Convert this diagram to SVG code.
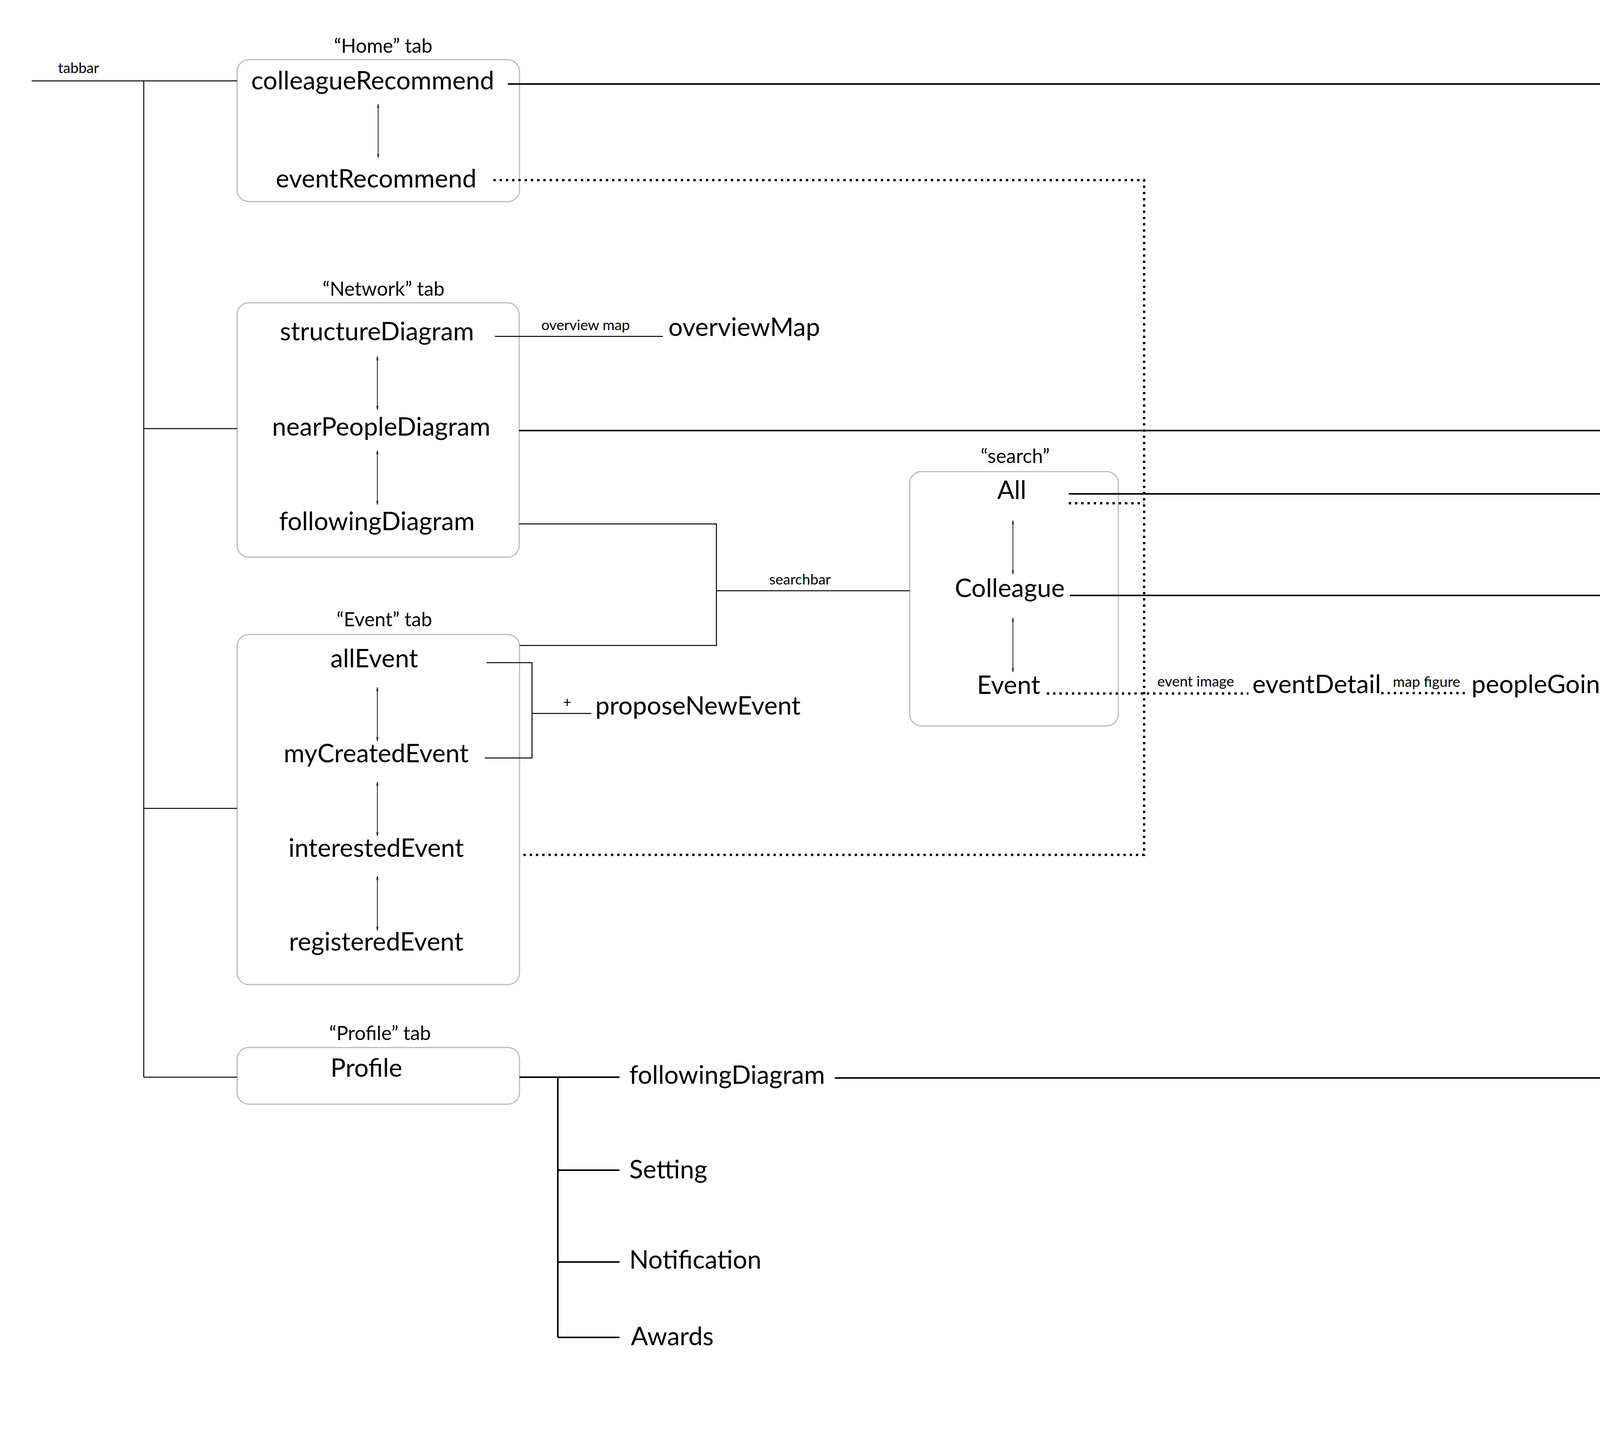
<svg xmlns="http://www.w3.org/2000/svg" width="4990" height="3724" viewBox="0 0 4990 3724">
<style>
text{font-family:Lato,"Liberation Sans",Arial,sans-serif;font-weight:400;fill:#000}
.lbl{font-size:65px}
.ttl{font-size:50px}
.sm{font-size:37px}
.mid{text-anchor:middle}
.box{fill:none;stroke:#bbb;stroke-width:3}
.thin{fill:none;stroke:#000;stroke-width:2.5}
.thick{fill:none;stroke:#000;stroke-width:4}
.dot{fill:none;stroke:#000;stroke-width:6;stroke-dasharray:6 10}
.arr{fill:none;stroke:#222;stroke-width:2}
</style>
<defs>
<marker id="ah" viewBox="0 0 10 6" refX="10" refY="3" markerWidth="11" markerHeight="7" markerUnits="userSpaceOnUse" orient="auto-start-reverse">
<path d="M0,0.5 L10,3 L0,5.5" fill="none" stroke="#222" stroke-width="1"/>
</marker>
</defs>
<rect width="4990" height="3724" fill="#fff"/>

<g id="home-tab">
<text class="ttl mid" x="981" y="135">“Home” tab</text>
<rect class="box" x="607" y="153" width="723" height="363" rx="30"/>
<text class="lbl mid" x="954" y="229">colleagueRecommend</text>
<text class="lbl mid" x="963" y="480">eventRecommend</text>
</g>

<g id="network-tab">
<text class="ttl mid" x="982" y="757">“Network” tab</text>
<rect class="box" x="607" y="775" width="722" height="651" rx="30"/>
<text class="lbl mid" x="965" y="871">structureDiagram</text>
<text class="lbl mid" x="976" y="1115">nearPeopleDiagram</text>
<text class="lbl mid" x="965" y="1357">followingDiagram</text>
</g>

<g id="overviewMap"><text class="lbl" x="1711" y="860">overviewMap</text></g>
<g id="colleaguesProfile"><text class="lbl" x="4463" y="1105">colleaguesProfile</text></g>

<g id="search">
<text class="ttl mid" x="2599" y="1185">“search”</text>
<rect class="box" x="2329" y="1207" width="534" height="651" rx="30"/>
<text class="lbl mid" x="2590" y="1277">All</text>
<text class="lbl mid" x="2585" y="1528">Colleague</text>
<text class="lbl mid" x="2582" y="1776">Event</text>
</g>

<g id="eventDetail"><text class="lbl" x="3206" y="1774">eventDetail</text></g>
<g id="peopleGoing"><text class="lbl" x="3767" y="1774">peopleGoing</text></g>

<g id="event-tab">
<text class="ttl mid" x="984" y="1603">“Event” tab</text>
<rect class="box" x="607" y="1624" width="723" height="896" rx="30"/>
<text class="lbl mid" x="958" y="1708">allEvent</text>
<text class="lbl mid" x="963" y="1951">myCreatedEvent</text>
<text class="lbl mid" x="963" y="2193">interestedEvent</text>
<text class="lbl mid" x="963" y="2433">registeredEvent</text>
</g>

<g id="proposeNewEvent"><text class="lbl" x="1524" y="1829">proposeNewEvent</text></g>

<g id="profile-tab">
<text class="ttl mid" x="973" y="2662">“Profile” tab</text>
<rect class="box" x="607" y="2681" width="723" height="145" rx="30"/>
<text class="lbl mid" x="938" y="2756">Profile</text>
</g>

<g id="profile-followingDiagram"><text class="lbl" x="1611" y="2774">followingDiagram</text></g>
<g id="setting"><text class="lbl" x="1611" y="3016">Setting</text></g>
<g id="notification"><text class="lbl" x="1611" y="3247">Notification</text></g>
<g id="awards"><text class="lbl" x="1615" y="3443">Awards</text></g>

<g id="connectors">
<path class="thin" d="M81,207 H607 M368,207 V2757 M368,1097 H607 M368,2069 H607 M368,2757 H607"/>
<path class="thick" d="M1300,215 H4185 V2761"/>
<path class="dot" d="M1263,461 H2929 V2188 H1330"/>
<line class="arr" x1="968" y1="266" x2="968" y2="404" marker-start="url(#ah)" marker-end="url(#ah)"/>
<path class="thin" d="M1267,861 H1697"/>
<path class="thick" d="M1329,1102 H4451"/>
<path class="thin" d="M1329,1341 H1834 V1652 H1330 M1834,1512 H2329"/>
<line class="arr" x1="966" y1="912" x2="966" y2="1049" marker-start="url(#ah)" marker-end="url(#ah)"/>
<line class="arr" x1="966" y1="1153" x2="966" y2="1292" marker-start="url(#ah)" marker-end="url(#ah)"/>
<path class="thick" d="M2736,1264 H4185 M2739,1524 H4185 M4132,1773 H4185"/>
<path class="dot" d="M2736,1288 H2929 M2680,1775 H3196 M3536,1774 H3750"/>
<line class="arr" x1="2593" y1="1332" x2="2593" y2="1470" marker-start="url(#ah)" marker-end="url(#ah)"/>
<line class="arr" x1="2593" y1="1581" x2="2593" y2="1720" marker-start="url(#ah)" marker-end="url(#ah)"/>
<path class="thin" d="M1245,1696 H1362 V1940 H1241 M1362,1826 H1514"/>
<line class="arr" x1="966" y1="1759" x2="966" y2="1897" marker-start="url(#ah)" marker-end="url(#ah)"/>
<line class="arr" x1="966" y1="2001" x2="966" y2="2140" marker-start="url(#ah)" marker-end="url(#ah)"/>
<line class="arr" x1="966" y1="2242" x2="966" y2="2382" marker-start="url(#ah)" marker-end="url(#ah)"/>
<path class="thick" d="M1330,2757 H1586 M1428,2757 V3423 M1428,2995 H1586 M1428,3230 H1586 M1428,3423 H1586 M2137,2759 H4185"/>
<text class="sm mid" x="201" y="187">tabbar</text>
<text class="sm mid" x="1499" y="845">overview map</text>
<text class="sm mid" x="2048" y="1496">searchbar</text>
<text class="sm mid" x="3061" y="1757">event image</text>
<text class="sm mid" x="3652" y="1758">map figure</text>
<text class="sm mid" x="4345" y="1086">Profile Image</text>
<text class="sm mid" x="1452" y="1810">+</text>
</g>
</svg>
